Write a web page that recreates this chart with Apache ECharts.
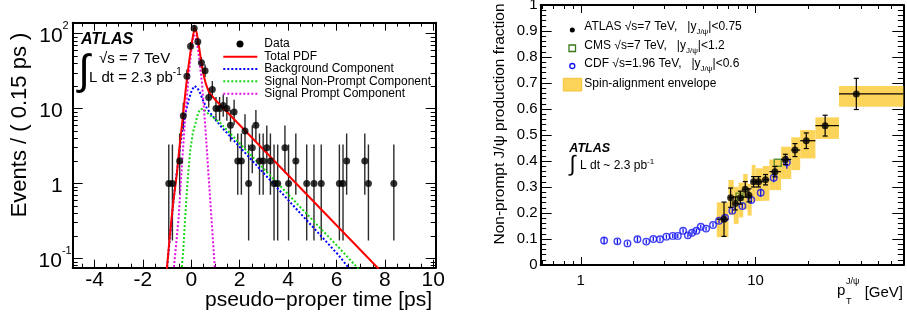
<!DOCTYPE html>
<html><head><meta charset="utf-8">
<script src="https://cdn.jsdelivr.net/npm/echarts@6/dist/echarts.min.js"></script>
<style>html,body{margin:0;padding:0;background:#fff}#c{width:907px;height:322px}</style>
</head><body><div id="c"></div>
<script>
// ===== Left panel: pseudo-proper time distribution =====
const tCenters = [-0.93,-0.78,-0.48,-0.33,-0.18,-0.03,0.12,0.27,0.42,0.57,0.72,0.87,1.02,1.17,1.32,1.47,1.62,1.77,1.92,2.07,2.22,2.37,2.52,2.67,2.82,2.97,3.12,3.27,3.42,3.57,3.87,4.02,4.32,4.77,5.07,5.37,6.12,6.27,6.42,7.17,7.32,8.37];
const tCounts = [1,1,2,8,27,68,118,78,41,32,14,18,10,10,11,10,6,9,2,2,5,1,3,6,2,2,3,2,1,1,3,1,2,1,1,1,1,1,2,2,1,1];
const tErrLo = [0.173,0.173,0.708,5.22,21.8,59.8,107.1,69.2,34.6,26.3,10.3,13.8,6.89,6.89,7.75,6.89,3.62,6.06,0.708,0.708,2.84,0.173,1.37,3.62,0.708,0.708,1.37,0.708,0.173,0.173,1.37,0.173,0.708,0.173,0.173,0.173,0.173,0.173,0.708,0.708,0.173,0.173];
const tErrHi = [3.30,3.30,4.64,11.98,33.2,77.3,129.9,87.9,48.4,38.7,18.7,23.3,14.27,14.27,15.38,14.27,9.58,13.15,4.64,4.64,8.38,3.30,5.92,9.58,4.64,4.64,5.92,4.64,3.30,3.30,5.92,3.30,4.64,3.30,3.30,3.30,3.30,3.30,4.64,4.64,3.30,3.30];

const totalT = [-1.03,-0.9,-0.75,-0.6,-0.5,-0.4,-0.3,-0.2,-0.1,0,0.08,0.15,0.22,0.3,0.4,0.5,0.6,0.7,0.8,1.0,7.75];
const totalY = [0.06,0.18,0.55,1.3,2.8,5.5,11,22,40,68,97,120,104,74,45,29,21.5,17.5,15.5,13,0.072];
const bkgT = [-1.03,-0.87,-0.66,-0.5,-0.39,-0.25,-0.11,0.02,0.13,0.25,0.37,0.5,0.65,0.8,1.2,6.09,6.7];
const bkgY = [0.06,0.21,1.0,2.5,4.7,8.5,13,17.5,20,19,16,12.5,10,8.6,5.9,0.11,0.062];
const nonPromptT = [-0.42,-0.33,-0.25,-0.15,-0.04,0.07,0.17,0.27,0.37,0.5,0.65,1.2,6.09,7.1];
const nonPromptY = [0.06,0.13,0.36,1.1,2.8,4.8,6.3,8.5,9.8,9.9,8.8,6.4,0.14,0.062];
const promptT = [-0.75,-0.62,-0.52,-0.39,-0.25,-0.11,0,0.07,0.14,0.22,0.3,0.44,0.58,0.72,0.86,0.99];
const promptY = [0.06,0.16,0.36,1.67,7.8,26.6,60,88,95,80,55,22,5.7,1.2,0.26,0.06];

const leftXTicks = [-4,-2,0,2,4,6,8,10];
const leftXMinor = [-4.5,-3.5,-3,-2.5,-1.5,-1,-0.5,0.5,1,1.5,2.5,3,3.5,4.5,5,5.5,6.5,7,7.5,8.5,9,9.5];
const leftYTicks = [0.1,1,10,100];
const leftYTickLabels = ['10^-1','1','10','10^2'];
const leftYMinor = [0.08,0.09,0.2,0.3,0.4,0.5,0.6,0.7,0.8,0.9,2,3,4,5,6,7,8,9,20,30,40,50,60,70,80,90];

// ===== Right panel: non-prompt fraction vs pT =====
const atlasPt = [6.6,7.2,7.66,8.18,8.73,9.16,9.74,10.4,11.4,12.9,14.8,16.8,19.5,25.0,37.7];
const atlasFrac = [0.176,0.259,0.237,0.259,0.291,0.268,0.320,0.320,0.328,0.359,0.406,0.442,0.478,0.536,0.658];
const atlasPtLo = [6,7,7.5,8,8.5,9,9.5,10,11,12,14,16,18,22,30];
const atlasPtHi = [7,7.5,8,8.5,9,9.5,10,11,12,14,16,18,22,30,70];
const atlasStat = [0.066,0.037,0.025,0.025,0.03,0.025,0.02,0.02,0.02,0.02,0.02,0.025,0.03,0.04,0.06];
const envLo = [0.107,0.192,0.158,0.183,0.214,0.19,0.243,0.246,0.247,0.288,0.331,0.365,0.410,0.485,0.609];
const envHi = [0.241,0.327,0.301,0.317,0.350,0.312,0.385,0.372,0.381,0.406,0.455,0.491,0.519,0.568,0.688];
const cmsPt = [8.1,13.4];
const cmsFrac = [0.263,0.393];
const cdfPt = [1.36,1.62,1.85,2.11,2.37,2.6,2.84,3.09,3.36,3.59,3.85,4.1,4.33,4.59,4.86,5.21,5.71,6.18,6.69,7.36,8.4,9.45,10.7,12.7,15.1];
const cdfFrac = [0.094,0.091,0.083,0.099,0.090,0.100,0.099,0.109,0.112,0.112,0.132,0.114,0.124,0.132,0.147,0.140,0.154,0.170,0.182,0.209,0.227,0.250,0.278,0.336,0.395];
const cdfErr = [0.014,0.01,0.008,0.01,0.008,0.008,0.008,0.008,0.008,0.008,0.008,0.008,0.008,0.008,0.008,0.008,0.008,0.008,0.01,0.01,0.01,0.012,0.015,0.018,0.025];

const rightXTicks = [1,10];
const rightXMinor = [0.6,0.7,0.8,0.9,2,3,4,5,6,7,8,9,20,30,40,50,60];

const FONT = 'Liberation Sans, Arial, Helvetica, sans-serif';
const YELLOW = '#fdd45a';
const CDF_BLUE = '#1010f0';
const CMS_GREEN = '#3a7a1a';

function mkAxis(o) {
  const ax = {
    type: o.type, gridIndex: o.grid, position: o.pos,
    min: o.min, max: o.max,
    axisLine: {show: !!o.line, onZero: false, lineStyle: {color: '#000', width: 2}},
    splitLine: {show: false}, minorSplitLine: {show: false},
    silent: true
  };
  if (o.type === 'log') ax.logBase = 10;
  if (o.interval) ax.interval = o.interval;
  if (o.ticks) ax.axisTick = {show: true, inside: true, length: o.tickLen, customValues: o.ticks, lineStyle: {color: '#000', width: 1}};
  else if (o.autoTick) ax.axisTick = {show: true, inside: true, length: o.tickLen, lineStyle: {color: '#000', width: 1}};
  else ax.axisTick = {show: false};
  ax.minorTick = o.minor ? {show: true, splitNumber: o.minor, length: o.minorLen, lineStyle: {color: '#000', width: 1}} : {show: false};
  ax.axisLabel = o.label ? Object.assign({show: true, color: '#000', fontFamily: FONT}, o.label) : {show: false};
  return ax;
}

function leftYLabel(v) {
  let best = 0, bd = 1e9;
  leftYTicks.forEach((t, i) => { const d = Math.abs(Math.log10(v) - Math.log10(t)); if (d < bd) { bd = d; best = i; } });
  const s = leftYTickLabels[best];
  if (s.indexOf('^') >= 0) {
    const [b, p] = s.split('^');
    return '{b|' + b + '}{' + (p.length > 1 ? 's2' : 's') + '|' + p + '}';
  }
  return '{bp|' + s + '}';
}

const xAxis = [
  mkAxis({type: 'value', grid: 0, pos: 'bottom', min: -4.9, max: 10.1, line: true, ticks: leftXTicks, tickLen: 8,
          label: {customValues: leftXTicks, fontSize: 21, margin: 2}}),
  mkAxis({type: 'value', grid: 0, pos: 'bottom', min: -4.9, max: 10.1, ticks: leftXMinor, tickLen: 4}),
  mkAxis({type: 'value', grid: 0, pos: 'top', min: -4.9, max: 10.1, line: true, ticks: leftXTicks, tickLen: 8}),
  mkAxis({type: 'value', grid: 0, pos: 'top', min: -4.9, max: 10.1, ticks: leftXMinor, tickLen: 4}),
  mkAxis({type: 'log', grid: 1, pos: 'bottom', min: 0.59, max: 70, line: true, ticks: rightXTicks, tickLen: 8,
          label: {customValues: rightXTicks, fontSize: 15, margin: 8}}),
  mkAxis({type: 'log', grid: 1, pos: 'bottom', min: 0.59, max: 70, ticks: rightXMinor, tickLen: 4}),
  mkAxis({type: 'log', grid: 1, pos: 'top', min: 0.59, max: 70, line: true, ticks: rightXTicks, tickLen: 8}),
  mkAxis({type: 'log', grid: 1, pos: 'top', min: 0.59, max: 70, ticks: rightXMinor, tickLen: 4})
];
const yAxis = [
  mkAxis({type: 'log', grid: 0, pos: 'left', min: 0.075, max: 140, line: true, ticks: leftYTicks, tickLen: 10,
          label: {customValues: leftYTicks, margin: 1, formatter: leftYLabel, rich: {
            b: {fontSize: 21, fontFamily: FONT, color: '#000', lineHeight: 26, verticalAlign: 'bottom'},
            bp: {fontSize: 21, fontFamily: FONT, color: '#000', lineHeight: 26, verticalAlign: 'bottom', padding: [0, 9, 0, 0]},
            s: {fontSize: 11, fontFamily: FONT, color: '#000', lineHeight: 11, verticalAlign: 'top', padding: [0, 3, 0, 0]},
            s2: {fontSize: 11, fontFamily: FONT, color: '#000', lineHeight: 11, verticalAlign: 'top'}
          }}}),
  mkAxis({type: 'log', grid: 0, pos: 'left', min: 0.075, max: 140, ticks: leftYMinor, tickLen: 5}),
  mkAxis({type: 'log', grid: 0, pos: 'right', min: 0.075, max: 140, line: true, ticks: leftYTicks, tickLen: 10}),
  mkAxis({type: 'log', grid: 0, pos: 'right', min: 0.075, max: 140, ticks: leftYMinor, tickLen: 5}),
  mkAxis({type: 'value', grid: 1, pos: 'left', min: 0, max: 1, interval: 0.1, line: true, autoTick: true, tickLen: 11,
          minor: 5, minorLen: 5.5, label: {fontSize: 15, margin: 3}}),
  mkAxis({type: 'value', grid: 1, pos: 'right', min: 0, max: 1, interval: 0.1, line: true, autoTick: true, tickLen: 11,
          minor: 5, minorLen: 5.5})
];

function pairs(xs, ys) { return xs.map((x, i) => [x, ys[i]]); }
function curve(name, xs, ys, color, dashed, z) {
  return {type: 'line', name, xAxisIndex: 0, yAxisIndex: 0, data: pairs(xs, ys), showSymbol: false, symbol: 'none',
          clip: true, z, silent: true,
          lineStyle: {color, width: 2, type: dashed ? [2, 2] : 'solid'}};
}

const series = [
  {type: 'custom', name: 'Data errors', xAxisIndex: 0, yAxisIndex: 0, clip: true, z: 2, silent: true,
   data: tCenters.map((t, i) => [t, tErrLo[i], tErrHi[i]]),
   encode: {x: 0, y: [1, 2]},
   renderItem: (p, api) => {
     const a = api.coord([api.value(0), api.value(1)]), b = api.coord([api.value(0), api.value(2)]);
     return {type: 'line', shape: {x1: a[0], y1: a[1], x2: b[0], y2: b[1]}, style: {stroke: '#2a2a2a', lineWidth: 1.4}};
   }},
  curve('Background Component', bkgT, bkgY, '#0000ff', true, 3),
  curve('Signal Non-Prompt Component', nonPromptT, nonPromptY, '#16d616', true, 3),
  curve('Signal Prompt Component', promptT, promptY, '#e010e0', true, 3),
  curve('Total PDF', totalT, totalY, '#ff0000', false, 4),
  {type: 'scatter', name: 'Data', xAxisIndex: 0, yAxisIndex: 0, data: pairs(tCenters, tCounts), symbol: 'circle',
   symbolSize: 7, itemStyle: {color: '#000'}, z: 5, silent: true},

  {type: 'custom', name: 'Spin-alignment envelope', xAxisIndex: 4, yAxisIndex: 4, z: 1, silent: true,
   data: atlasPt.map((_, i) => [atlasPtLo[i], atlasPtHi[i], envLo[i], envHi[i]]),
   encode: {x: [0, 1], y: [2, 3]},
   renderItem: (p, api) => {
     const a = api.coord([api.value(0), api.value(3)]), b = api.coord([api.value(1), api.value(2)]);
     return {type: 'rect', shape: {x: a[0], y: a[1], width: b[0] - a[0], height: b[1] - a[1]}, style: {fill: YELLOW}};
   }},
  {type: 'custom', name: 'CDF errors', xAxisIndex: 4, yAxisIndex: 4, z: 2, silent: true,
   data: cdfPt.map((x, i) => [x, cdfFrac[i] - cdfErr[i], cdfFrac[i] + cdfErr[i]]),
   encode: {x: 0, y: [1, 2]},
   renderItem: (p, api) => {
     const a = api.coord([api.value(0), api.value(1)]), b = api.coord([api.value(0), api.value(2)]);
     return {type: 'line', shape: {x1: a[0], y1: a[1], x2: b[0], y2: b[1]}, style: {stroke: CDF_BLUE, lineWidth: 1.3}};
   }},
  {type: 'scatter', name: 'CDF', xAxisIndex: 4, yAxisIndex: 4, data: pairs(cdfPt, cdfFrac), symbol: 'circle', symbolSize: 6.5,
   itemStyle: {color: 'rgba(0,0,0,0)', borderColor: CDF_BLUE, borderWidth: 1.4}, z: 3, silent: true},
  {type: 'scatter', name: 'CMS', xAxisIndex: 4, yAxisIndex: 4, data: pairs(cmsPt, cmsFrac), symbol: 'rect', symbolSize: 7,
   itemStyle: {color: 'rgba(0,0,0,0)', borderColor: CMS_GREEN, borderWidth: 1.4}, z: 3, silent: true},
  {type: 'custom', name: 'ATLAS errors', xAxisIndex: 4, yAxisIndex: 4, z: 4, silent: true,
   data: atlasPt.map((x, i) => [x, atlasFrac[i], atlasPtLo[i], atlasPtHi[i], atlasFrac[i] - atlasStat[i], atlasFrac[i] + atlasStat[i]]),
   encode: {x: [0, 2, 3], y: [1, 4, 5]},
   renderItem: (p, api) => {
     const c = api.coord([api.value(0), api.value(1)]);
     const l = api.coord([api.value(2), api.value(1)]), r = api.coord([api.value(3), api.value(1)]);
     const lo = api.coord([api.value(0), api.value(4)]), hi = api.coord([api.value(0), api.value(5)]);
     const st = {stroke: '#000', lineWidth: 1.2};
     return {type: 'group', children: [
       {type: 'line', shape: {x1: l[0], y1: c[1], x2: r[0], y2: c[1]}, style: st},
       {type: 'line', shape: {x1: c[0], y1: lo[1], x2: c[0], y2: hi[1]}, style: st},
       {type: 'line', shape: {x1: c[0] - 2.5, y1: lo[1], x2: c[0] + 2.5, y2: lo[1]}, style: st},
       {type: 'line', shape: {x1: c[0] - 2.5, y1: hi[1], x2: c[0] + 2.5, y2: hi[1]}, style: st}
     ]};
   }},
  {type: 'scatter', name: 'ATLAS', xAxisIndex: 4, yAxisIndex: 4, data: pairs(atlasPt, atlasFrac), symbol: 'circle', symbolSize: 7,
   itemStyle: {color: '#000'}, z: 5, silent: true}
];

// ===== Text, legends, annotations =====
const G = [];
const measureCtx = document.createElement('canvas').getContext('2d');
function textWidth(s, size) { measureCtx.font = size + 'px ' + FONT; return measureCtx.measureText(s).width; }
function txt(x, y, text, o) {
  o = o || {};
  const st = {text, fill: '#000', fontFamily: FONT, fontSize: o.size || 12, fontWeight: o.weight || 'normal',
              fontStyle: o.style || 'normal', align: o.align || 'left', textAlign: o.align || 'left',
              verticalAlign: o.va || 'middle', textVerticalAlign: o.va || 'middle'};
  if (o.rich) st.rich = o.rich;
  G.push({type: 'text', x, y, rotation: o.rot || 0, silent: true, z: 100, style: st});
}
function hline(x1, x2, y, color, dashed) {
  G.push({type: 'line', silent: true, z: 100, shape: {x1, y1: y, x2, y2: y},
          style: {stroke: color, lineWidth: 2, lineDash: dashed ? [2, 2] : null}});
}
function rs(size, va, lh) {
  return {fontSize: size, fontFamily: FONT, fill: '#000', textFill: '#000', lineHeight: lh,
          verticalAlign: va, textVerticalAlign: va};
}
// text with a lowered subscript: main + sub + tail
function subText(x, y, main, sub, tail) {
  txt(x, y, main);
  const w1 = textWidth(main, 12);
  txt(x + w1, y + 5, sub, {size: 8});
  txt(x + w1 + textWidth(sub, 8), y, tail);
}

// left panel
txt(20, 125, 'Events / ( 0.15 ps )', {size: 22, align: 'center', rot: Math.PI / 2});
txt(432, 300, 'pseudo\u2212proper time [ps]', {size: 21, align: 'right'});
txt(81, 39.5, 'ATLAS', {size: 16, weight: 'bold', style: 'italic'});
txt(84, 72, '\u222B', {size: 42, align: 'center'});
txt(99, 59, '\u221As = 7 TeV', {size: 15});
txt(89, 76, '{a|L dt = 2.3 pb}{s|-1}', {size: 15, rich: {a: rs(15, 'bottom', 18), s: rs(10, 'top', 10)}});
G.push({type: 'circle', silent: true, z: 100, shape: {cx: 240, cy: 44, r: 3.5}, style: {fill: '#000'}});
hline(223.3, 257.3, 56.7, '#ff0000', false);
hline(223.3, 257.3, 69, '#0000ff', true);
hline(223.3, 257.3, 81.3, '#16d616', true);
hline(223.3, 257.3, 93.8, '#e010e0', true);
txt(264.3, 44, 'Data');
txt(264.3, 56.7, 'Total PDF');
txt(264.3, 69, 'Background Component');
txt(264.3, 81.3, 'Signal Non-Prompt Component');
txt(264.3, 93.8, 'Signal Prompt Component');

// right panel
txt(499.3, 124, 'Non-prompt J/\u03C8 production fraction', {size: 15.5, align: 'center', rot: Math.PI / 2});
txt(837, 291, 'p', {size: 15});
txt(846, 281.5, 'J/\u03C8', {size: 9});
txt(846, 301.5, 'T', {size: 9});
txt(903, 292.5, '[GeV]', {size: 15, align: 'right'});
subText(584.3, 26.7, 'ATLAS \u221As=7 TeV,   |y', 'J/\u03C8', '|<0.75');
subText(584.3, 45.7, 'CMS \u221As=7 TeV,   |y', 'J/\u03C8', '|<1.2');
subText(584.3, 63.3, 'CDF \u221As=1.96 TeV,   |y', 'J/\u03C8', '|<0.6');
txt(584.3, 84, 'Spin-alignment envelope');
G.push({type: 'circle', silent: true, z: 100, shape: {cx: 572.3, cy: 30, r: 2.5}, style: {fill: '#000'}});
G.push({type: 'rect', silent: true, z: 100, shape: {x: 569, y: 45, width: 6.5, height: 6.5}, style: {fill: 'none', stroke: CMS_GREEN, lineWidth: 1.3}});
G.push({type: 'circle', silent: true, z: 100, shape: {cx: 572.3, cy: 66, r: 2.5}, style: {fill: 'none', stroke: CDF_BLUE, lineWidth: 1.3}});
G.push({type: 'rect', silent: true, z: 100, shape: {x: 563.3, y: 78.3, width: 18.4, height: 12.7}, style: {fill: YELLOW, stroke: '#f3c236', lineWidth: 1}});
txt(569.3, 148.3, 'ATLAS', {size: 12.5, weight: 'bold', style: 'italic'});
txt(572.5, 165, '\u222B', {size: 22, align: 'center'});
txt(580, 165, '{a|L dt ~ 2.3 pb}{s|-1}', {rich: {a: rs(12, 'bottom', 14), s: rs(8, 'top', 8)}});

const chart = echarts.init(document.getElementById('c'), null, {renderer: 'canvas'});
chart.setOption({
  animation: false,
  backgroundColor: '#fff',
  textStyle: {fontFamily: FONT},
  grid: [
    {left: 72.7, top: 22.7, width: 363, height: 245, containLabel: false, outerBoundsMode: 'none'},
    {left: 540.7, top: 5, width: 362.6, height: 260, containLabel: false, outerBoundsMode: 'none'}
  ],
  xAxis, yAxis, series,
  graphic: {elements: G}
});
</script></body></html>
